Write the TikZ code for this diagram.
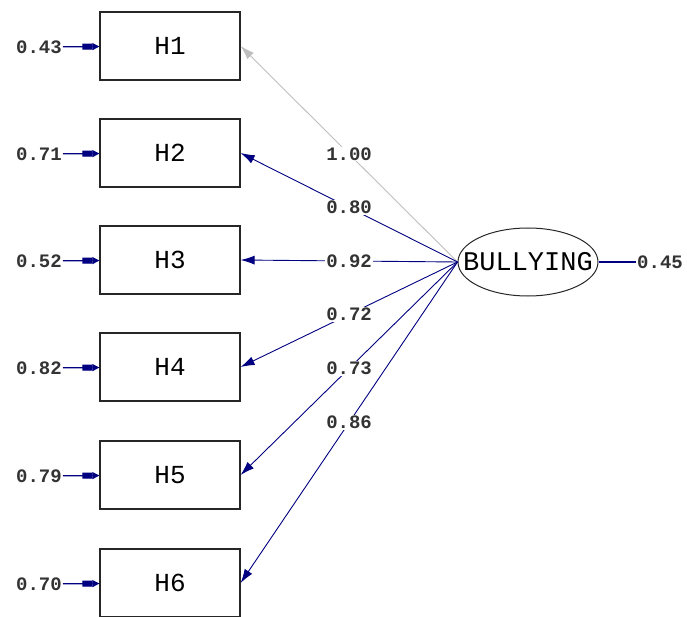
\documentclass[tikz,border=0pt]{standalone}
\usepackage{fontspec}
\setmonofont{Liberation Mono}
\usetikzlibrary{shapes,arrows.meta}
\definecolor{pathblue}{RGB}{0,0,128}
\definecolor{fixgray}{RGB}{190,190,190}

\begin{document}
\begin{tikzpicture}[x=1pt,y=-1pt,
    var/.style={draw=black!85, line width=1.2pt, minimum width=140pt, minimum height=68pt,
      font=\ttfamily\fontsize{26}{26}\selectfont},
    latent/.style={draw=black!85, ellipse, line width=1pt, minimum width=140pt, minimum height=68pt,
      inner xsep=-16pt, inner ysep=0pt, font=\ttfamily\fontsize{27}{27}\selectfont},
    num/.style={font=\ttfamily\bfseries\fontsize{19}{19}\selectfont, text=black!80, inner sep=1pt},
    load/.style={pathblue, line width=0.9pt, -{Latex[length=14pt,width=9pt]}},
    err/.style={pathblue, line width=1.2pt, -{Rectangle[length=10pt,width=6pt]Triangle[length=7pt,width=7pt]}},
    lab/.style={num, fill=white, pos=0.5}]
  \useasboundingbox (0,0) rectangle (687,617);
  \clip (0,0) rectangle (687,617);

  % observed variables
  \node[var] (h1) at (170,46) {H1};
  \node[var] (h2) at (170,153) {H2};
  \node[var] (h3) at (170,260) {H3};
  \node[var] (h4) at (170,367) {H4};
  \node[var] (h5) at (170,475) {H5};
  \node[var] (h6) at (170,583) {H6};

  % latent variable
  \node[latent] (bul) at (528,262) {BULLYING};

  % error variances
  \node[num, anchor=east] (e1) at (63,47) {0.43};
  \node[num, anchor=east] (e2) at (63,154) {0.71};
  \node[num, anchor=east] (e3) at (63,261) {0.52};
  \node[num, anchor=east] (e4) at (63,368) {0.82};
  \node[num, anchor=east] (e5) at (63,476) {0.79};
  \node[num, anchor=east] (e6) at (63,584) {0.70};
  \node[num, anchor=west] (eb) at (636,262) {0.45};

  \draw[err] (e1) -- (h1);
  \draw[err] (e2) -- (h2);
  \draw[err] (e3) -- (h3);
  \draw[err] (e4) -- (h4);
  \draw[err] (e5) -- (h5);
  \draw[err] (e6) -- (h6);
  \draw[pathblue, line width=1.2pt] (bul.east) -- (eb.west);

  % loadings
  \draw[load, fixgray] (bul.west) -- node[lab] {1.00} (h1.east);
  \draw[load] (bul.west) -- node[lab] {0.80} (h2.east);
  \draw[load] (bul.west) -- node[lab] {0.92} (h3.east);
  \draw[load] (bul.west) -- node[lab] {0.72} (h4.east);
  \draw[load] (bul.west) -- node[lab] {0.73} (h5.east);
  \draw[load] (bul.west) -- node[lab] {0.86} (h6.east);
\end{tikzpicture}
\end{document}
